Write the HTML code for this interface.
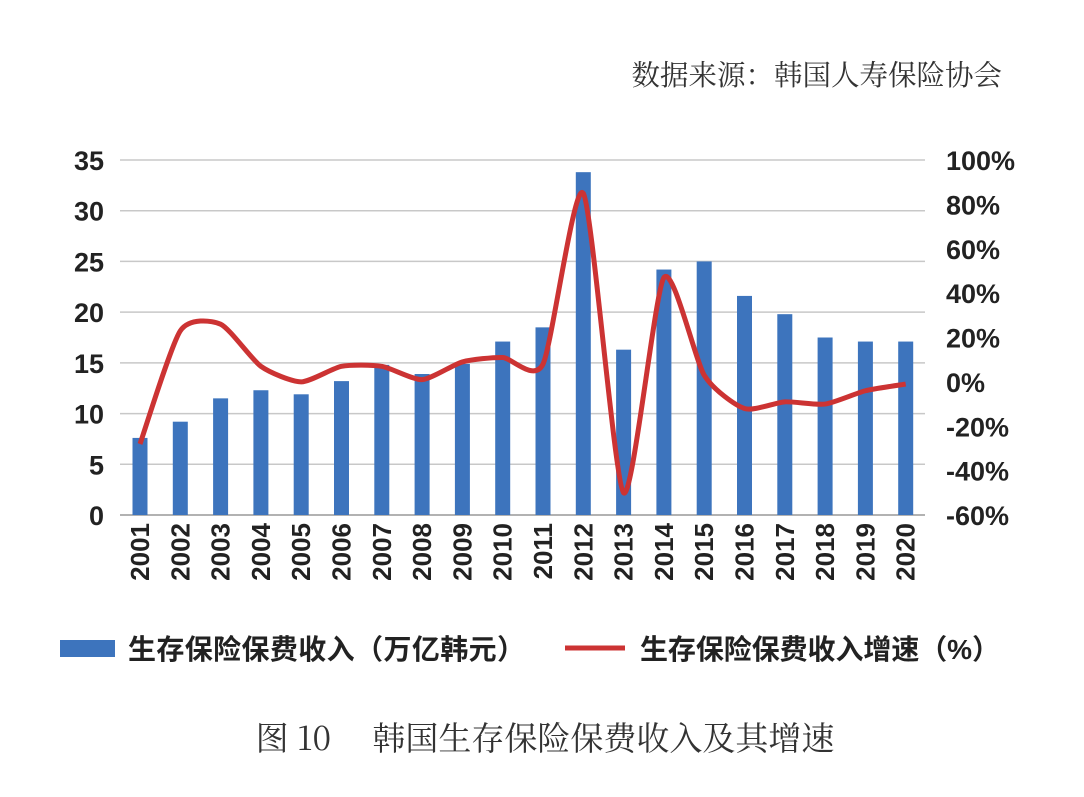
<!DOCTYPE html>
<html><head><meta charset="utf-8"><style>
body{margin:0;background:#fff;}
svg text{font-family:"Liberation Sans","Noto Sans CJK SC",sans-serif;}
</style></head><body>
<svg width="1084" height="792" viewBox="0 0 1084 792">
<text x="1002" y="85" text-anchor="end" font-size="28.5" fill="#333" style="font-family:'Noto Serif CJK SC',serif">数据来源：韩国人寿保险协会</text>
<g id="grid"></g><g id="bars"></g><g id="line"></g><g id="axes"></g>
<g>
<rect x="60" y="640" width="55" height="17" fill="#3d74bd"/>
<text x="128" y="659" font-size="28" font-weight="bold" fill="#222" textLength="397">生存保险保费收入（万亿韩元）</text>
<line x1="565" y1="648" x2="625" y2="648" stroke="#cc3333" stroke-width="5"/>
<text x="640" y="659" font-size="28" font-weight="bold" fill="#222" textLength="360">生存保险保费收入增速（%）</text>
</g>
<text x="545" y="750" text-anchor="middle" font-size="33" fill="#333" style="font-family:'Noto Serif CJK SC',serif">图 10　 韩国生存保险保费收入及其增速</text>
</svg>
<script>
const years=["2001","2002","2003","2004","2005","2006","2007","2008","2009","2010","2011","2012","2013","2014","2015","2016","2017","2018","2019","2020"];
const premium=[7.6,9.2,11.5,12.3,11.9,13.2,14.8,13.9,14.9,17.1,18.5,33.8,16.3,24.2,25.0,21.6,19.8,17.5,17.1,17.1];
const growth=[-28,23,26,7,0,7,7,1,9,11,8,85,-50,47,3,-12,-9,-10,-4,-1];
const leftTicks=[0,5,10,15,20,25,30,35];
const rightTicks=[-60,-40,-20,0,20,40,60,80,100];
const NS="http://www.w3.org/2000/svg";
const x0=120,x1=925,yB=515,yT=160;
const xc=i=>140+i*40.3;
const yL=v=>yB-(v/35)*(yB-yT);
const yR=v=>yB-((v+60)/160)*(yB-yT);
function mk(t,a,p){const e=document.createElementNS(NS,t);for(const k in a)e.setAttribute(k,a[k]);p.appendChild(e);return e;}
const grid=document.getElementById('grid'),bars=document.getElementById('bars'),line=document.getElementById('line'),axes=document.getElementById('axes');
leftTicks.forEach(v=>{
 const l=mk('line',{x1:x0,x2:x1,y1:yL(v),y2:yL(v),stroke:v===0?'#999':'#c8c8c8','stroke-width':1.5},grid);
 
 
 const t=mk('text',{x:104,y:yL(v)+10,'text-anchor':'end','font-size':27,'font-weight':'bold',fill:'#222'},axes);
 t.textContent=v;
 
 
});
rightTicks.forEach(v=>{
 const t=mk('text',{x:946,y:yR(v)+10,'font-size':27,'font-weight':'bold',fill:'#222'},axes);
 t.textContent=v+'%';
 
 
});
premium.forEach((v,i)=>{
 const r=mk('rect',{x:xc(i)-7.5,y:yL(v),width:15,height:yB-yL(v),fill:'#3d74bd'},bars);
 
 
 const t=mk('text',{x:0,y:0,'font-size':26,'font-weight':'bold',fill:'#222','text-anchor':'end',transform:`translate(${xc(i)+9},${yB+8}) rotate(-90)`},axes);
 t.textContent=years[i];
 
 
});
const pts=growth.map((v,i)=>[xc(i),yR(v)]);
let d='M'+pts[0][0]+','+pts[0][1];
const k=9;
for(let i=0;i<pts.length-1;i++){
 const p0=pts[Math.max(0,i-1)],p1=pts[i],p2=pts[i+1],p3=pts[Math.min(pts.length-1,i+2)];
 const c1=[p1[0]+(p2[0]-p0[0])/k,p1[1]+(p2[1]-p0[1])/k],c2=[p2[0]-(p3[0]-p1[0])/k,p2[1]-(p3[1]-p1[1])/k];
 d+=` C${c1[0]},${c1[1]} ${c2[0]},${c2[1]} ${p2[0]},${p2[1]}`;
}
const path=mk('path',{d:d,fill:'none',stroke:'#cc3333','stroke-width':5,'stroke-linejoin':'round'},line);


</script>
</body></html>
